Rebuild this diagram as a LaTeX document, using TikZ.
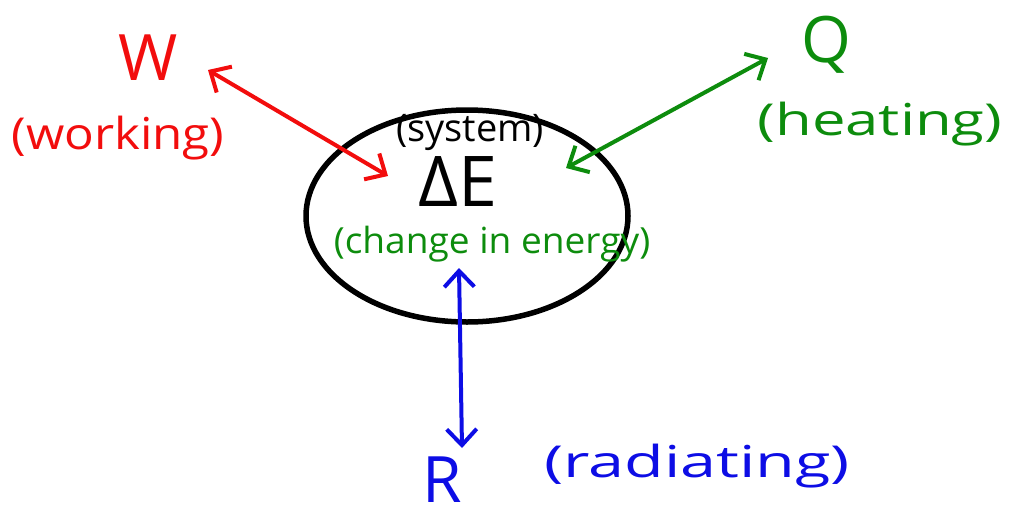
\documentclass[tikz,border=0pt]{standalone}
\usepackage{fontspec}
\setmainfont{Open Sans}
\usetikzlibrary{arrows.meta,shapes.geometric,positioning}
\definecolor{penred}{rgb}{0.95,0.05,0.05}
\definecolor{pengreen}{rgb}{0.05,0.55,0.05}
\definecolor{penblue}{rgb}{0.05,0.05,0.9}
\tikzstyle{label} = [
    inner sep=0pt,
    font=\fontsize{44}{48}\selectfont
]
\tikzstyle{symbol} = [
    inner sep=0pt,
    font=\fontsize{64}{68}\selectfont
]
\tikzstyle{exchange} = [
    {Straight Barb[length=16pt,width=30pt,line width=4pt]}-{Straight Barb[length=16pt,width=30pt,line width=4pt]},
    line width=4pt,
    line cap=round
]
\begin{document}
\begin{tikzpicture}[x=1pt, y=-1pt]
        \useasboundingbox (0,0) rectangle (1014,522);
        % the system
        \node[ellipse, draw, line width=5.5pt, minimum width=322pt, minimum height=212pt] (sys) at (467,216) {};
        \node[label, font=\fontsize{38}{42}\selectfont] (system) at (470,132) {(system)};
        \node[symbol, font=\fontsize{70}{74}\selectfont] (dE) at (458,182) {ΔE};
        \node[label, text=pengreen, font=\fontsize{36}{40}\selectfont, xscale=1.03] (change) at (492,244) {(change in energy)};

        % working
        \node[symbol, text=penred] (W) at (148,58) {W};
        \node[label, text=penred, xscale=1.12] (working) at (118,138) {(working)};
        \coordinate (win) at (388,176);
        \coordinate (wout) at (208,70);
        \draw[exchange, penred] (wout) -- (win);

        % heating
        \node[symbol, text=pengreen] (Q) at (826,45) {Q};
        \node[label, text=pengreen, xscale=1.36] (heating) at (880,124) {(heating)};
        \coordinate (qin) at (566,168);
        \coordinate (qout) at (768,58);
        \draw[exchange, pengreen] (qin) -- (qout);

        % radiating
        \node[symbol, text=penblue, font=\fontsize{64}{68}\selectfont] (R) at (442,480) {R};
        \node[label, text=penblue, xscale=1.47] (radiating) at (697,466) {(radiating)};
        \coordinate (rin) at (459,268);
        \coordinate (rout) at (462,448);
        \draw[exchange, penblue] (rin) -- (rout);
    \end{tikzpicture}
\end{document}
